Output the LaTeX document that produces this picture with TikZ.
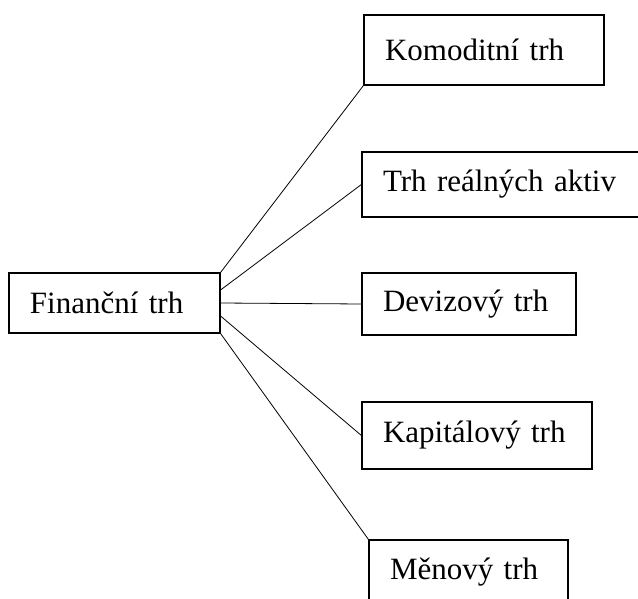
\documentclass[tikz,border=0pt]{standalone}
\usepackage{fontspec}
\setmainfont{Liberation Serif}
\usepackage{tikz}
\def\dline{\draw[line width=0.8pt]}

\begin{document}
\begin{tikzpicture}[x=1pt,y=-1pt,
    mkt/.style={draw,line width=1.2pt,inner xsep=21pt,inner ysep=0pt,align=left,
                font=\fontsize{31}{37}\selectfont}]
    \useasboundingbox (0,0) rectangle (638,599);
    \clip (0,0) rectangle (638,599);
    % hub and the five markets
    \node[mkt,text width=169pt,minimum height=60pt] (fin) at (114.5,303) {Finanční trh};
    \node[mkt,text width=198pt,minimum height=70pt] (kom) at (484,50) {Komoditní trh};
    \node[mkt,text width=238pt,minimum height=65pt] (rea) at (502,184.5) {Trh reálných aktiv};
    \node[mkt,text width=172pt,minimum height=62pt] (dev) at (469,304) {Devizový trh};
    \node[mkt,text width=188pt,minimum height=67pt] (kap) at (477,435.5) {Kapitálový trh};
    \node[mkt,text width=157pt,minimum height=64pt] (men) at (468.5,572) {Měnový trh};
    % connectors
    \dline (fin.north east) -- (kom.south west);
    \dline (fin.7) -- (rea.west);
    \dline (fin.east) -- (dev.west);
    \dline (fin.-7) -- (kap.west);
    \dline (fin.south east) -- (men.north west);
\end{tikzpicture}
\end{document}
